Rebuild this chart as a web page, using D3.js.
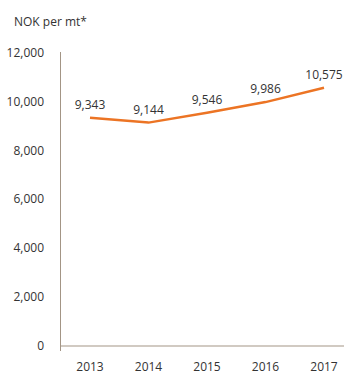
<!DOCTYPE html>
<html>
<head>
<meta charset="utf-8">
<script src="https://cdn.jsdelivr.net/npm/d3@7"></script>
<style>
  html, body { margin: 0; padding: 0; background: #fff; }
  svg text { font-family: "Open Sans", "Noto Sans", sans-serif; fill: #333; }
</style>
</head>
<body>
<svg id="chart" width="344" height="374"></svg>
<script>
// NOK per metric tonne by year
const years = ["2013", "2014", "2015", "2016", "2017"];
const values = [9343, 9144, 9546, 9986, 10575];
const yTicks = [0, 2000, 4000, 6000, 8000, 10000, 12000];

const svg = d3.select("#chart");
const fmt = d3.format(",");

const x = d3.scalePoint().domain(years).range([90, 324]);
const y = d3.scaleLinear().domain([0, 12000]).range([345.5, 53]);

const axisColor = "#a39585";

// unit title
svg.append("text")
  .attr("x", 14).attr("y", 26)
  .attr("font-size", 12)
  .text("NOK per mt*");

// y axis line and labels
svg.append("line")
  .attr("x1", 60.5).attr("x2", 60.5)
  .attr("y1", 52).attr("y2", 351)
  .attr("stroke", axisColor).attr("stroke-width", 1);

svg.selectAll("text.ytick").data(yTicks).enter().append("text")
  .attr("class", "ytick")
  .attr("x", 44)
  .attr("y", d => y(d))
  .attr("dy", "0.35em")
  .attr("text-anchor", "end")
  .attr("font-size", 12)
  .text(d => fmt(d));

// x baseline and labels
svg.append("line")
  .attr("x1", 60).attr("x2", 344)
  .attr("y1", 346).attr("y2", 346)
  .attr("stroke", axisColor).attr("stroke-width", 1);

svg.selectAll("text.xtick").data(years).enter().append("text")
  .attr("class", "xtick")
  .attr("x", d => x(d))
  .attr("y", 371)
  .attr("text-anchor", "middle")
  .attr("font-size", 12)
  .text(d => d);

// series line
const line = d3.line()
  .x((d, i) => x(years[i]))
  .y(d => y(d));

svg.append("path")
  .datum(values)
  .attr("fill", "none")
  .attr("stroke", "#ec7424")
  .attr("stroke-width", 2.5)
  .attr("d", line);

// value labels
svg.selectAll("text.val").data(values).enter().append("text")
  .attr("class", "val")
  .attr("x", (d, i) => x(years[i]))
  .attr("y", d => y(d) - 9)
  .attr("text-anchor", "middle")
  .attr("font-size", 12)
  .text(d => fmt(d));
</script>
</body>
</html>
